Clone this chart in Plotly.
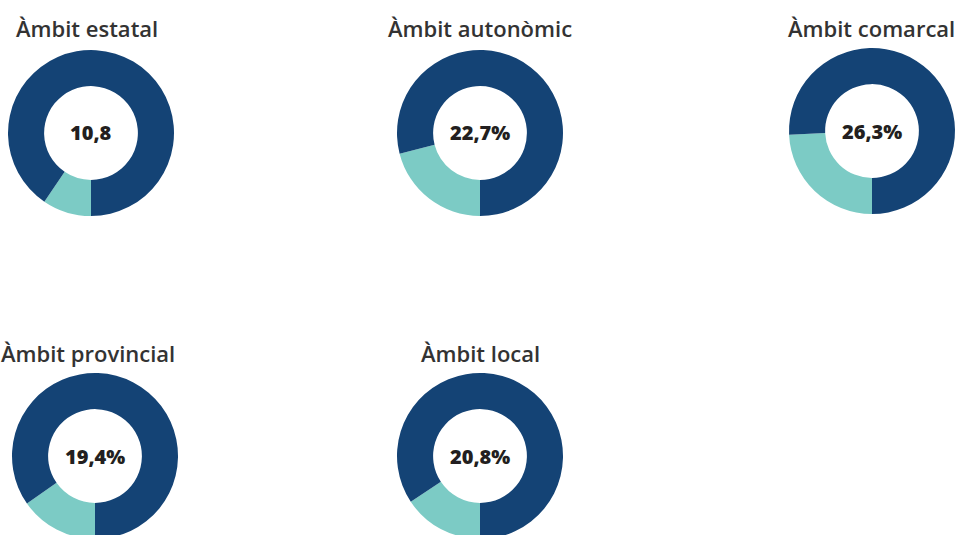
# Donut charts: share per administrative level ("Àmbit ...")
import plotly.graph_objects as go

# ---------- data ----------
ambits = ["Àmbit estatal", "Àmbit autonòmic", "Àmbit comarcal",
          "Àmbit provincial", "Àmbit local"]
center_labels = ["10,8", "22,7%", "26,3%", "19,4%", "20,8%"]
# slice share read from the drawn arcs (%)
slice_share = [9.5, 21.0, 24.3, 15.3, 15.7]

# ---------- layout (pixels) ----------
W, H = 960, 540
R = 83  # donut outer radius
centers = [(91, 133), (480, 133), (872, 131), (95, 456), (480, 456)]
title_x = [87, 480, 871, 88, 480]
title_y = [28, 28, 28, 353, 353]

TEAL = "#7ccbc5"
BLUE = "#144375"
FONT = "Open Sans, Noto Sans, sans-serif"

fig = go.Figure()
annotations = []
for i, name in enumerate(ambits):
    cx, cy = centers[i]
    x0, x1 = (cx - R) / W, (cx + R) / W
    y0, y1 = 1 - (cy + R) / H, 1 - (cy - R) / H
    y0 = max(y0, 0)
    v = slice_share[i]
    fig.add_trace(go.Pie(
        labels=["share", "rest"], values=[v, 100 - v],
        hole=0.565, sort=False, direction="clockwise", rotation=180,
        marker=dict(colors=[TEAL, BLUE], line=dict(width=0)),
        textinfo="none", hoverinfo="skip", showlegend=False,
        domain=dict(x=[x0, x1], y=[y0, y1]),
    ))
    annotations.append(dict(
        text=center_labels[i], x=cx / W, y=1 - cy / H,
        xref="paper", yref="paper", xanchor="center", yanchor="middle",
        showarrow=False,
        font=dict(family=FONT, size=20, color="#231f20", weight=800),
    ))
    annotations.append(dict(
        text=name, x=title_x[i] / W, y=1 - title_y[i] / H,
        xref="paper", yref="paper", xanchor="center", yanchor="middle",
        showarrow=False,
        font=dict(family=FONT, size=22, color="#333333", weight=600),
    ))

fig.update_layout(
    width=W, height=H,
    margin=dict(l=0, r=0, t=0, b=0),
    paper_bgcolor="white", plot_bgcolor="white",
    annotations=annotations,
)

fig.write_html("out.html", config={"displayModeBar": False},
               post_script="document.body.style.margin='0';")
